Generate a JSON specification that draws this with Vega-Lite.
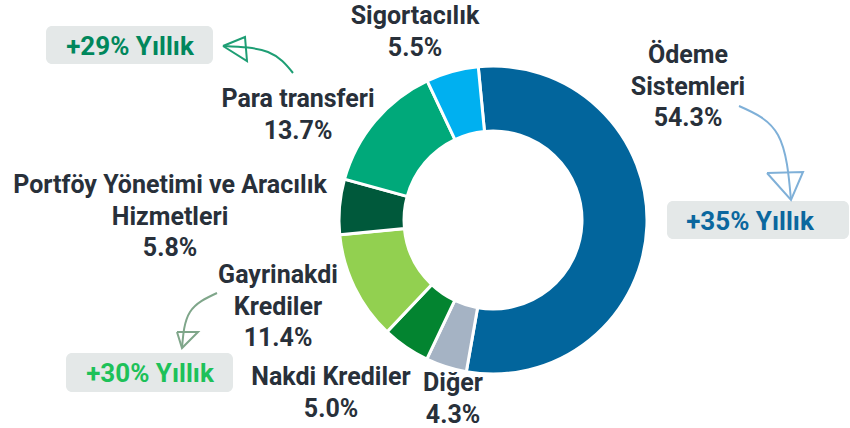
{
  "$schema": "https://vega.github.io/schema/vega-lite/v6.json",
  "width": 850,
  "height": 428,
  "autosize": {"type": "fit", "contains": "padding"},
  "padding": 0,
  "background": "white",
  "config": {"view": {"stroke": null}},
  "resolve": {"scale": {"color": "independent", "stroke": "independent"}},
  "datasets": {
    "slices": [
      {"segment": "Ödeme Sistemleri", "share": 54.3, "order": 1},
      {"segment": "Diğer", "share": 4.3, "order": 2},
      {"segment": "Nakdi Krediler", "share": 5.0, "order": 3},
      {"segment": "Gayrinakdi Krediler", "share": 11.4, "order": 4},
      {"segment": "Portföy Yönetimi ve Aracılık Hizmetleri", "share": 5.8, "order": 5},
      {"segment": "Para transferi", "share": 13.7, "order": 6},
      {"segment": "Sigortacılık", "share": 5.5, "order": 7}
    ],
    "labels": [
      {"text": "Sigortacılık\n5.5%", "x": 415, "y": 24},
      {"text": "Ödeme\nSistemleri\n54.3%", "x": 688, "y": 63},
      {"text": "Para transferi\n13.7%", "x": 298, "y": 107},
      {"text": "Portföy Yönetimi ve Aracılık\nHizmetleri\n5.8%", "x": 170, "y": 193},
      {"text": "Gayrinakdi\nKrediler\n11.4%", "x": 278, "y": 283},
      {"text": "Nakdi Krediler\n5.0%", "x": 331, "y": 385},
      {"text": "Diğer\n4.3%", "x": 453, "y": 391}
    ],
    "boxes": [
      {"text": "+29% Yıllık", "x1": 46, "x2": 213, "y1": 26, "y2": 64, "tx": 130, "ty": 55, "kind": "para"},
      {"text": "+35% Yıllık", "x1": 667, "x2": 849, "y1": 201, "y2": 239, "tx": 750, "ty": 230, "kind": "odeme"},
      {"text": "+30% Yıllık", "x1": 66, "x2": 233, "y1": 353, "y2": 392, "tx": 150, "ty": 382, "kind": "kredi"}
    ],
    "arrows": [
      {"kind": "para", "part": "shaft", "i": 1, "x": 293, "y": 73},
      {"kind": "para", "part": "shaft", "i": 2, "x": 268, "y": 52},
      {"kind": "para", "part": "shaft", "i": 3, "x": 224, "y": 46},
      {"kind": "para", "part": "head", "i": 1, "x": 223, "y": 46},
      {"kind": "para", "part": "head", "i": 2, "x": 245, "y": 37},
      {"kind": "para", "part": "head", "i": 3, "x": 247, "y": 61},
      {"kind": "para", "part": "head", "i": 4, "x": 223, "y": 46},
      {"kind": "odeme", "part": "shaft", "i": 1, "x": 739, "y": 106},
      {"kind": "odeme", "part": "shaft", "i": 2, "x": 778, "y": 135},
      {"kind": "odeme", "part": "shaft", "i": 3, "x": 791, "y": 200},
      {"kind": "odeme", "part": "head", "i": 1, "x": 767, "y": 173},
      {"kind": "odeme", "part": "head", "i": 2, "x": 803, "y": 172},
      {"kind": "odeme", "part": "head", "i": 3, "x": 791, "y": 200},
      {"kind": "odeme", "part": "head", "i": 4, "x": 767, "y": 173},
      {"kind": "kredi", "part": "shaft", "i": 1, "x": 217, "y": 293},
      {"kind": "kredi", "part": "shaft", "i": 2, "x": 190, "y": 312},
      {"kind": "kredi", "part": "shaft", "i": 3, "x": 182, "y": 348},
      {"kind": "kredi", "part": "head", "i": 1, "x": 177, "y": 332},
      {"kind": "kredi", "part": "head", "i": 2, "x": 198, "y": 332},
      {"kind": "kredi", "part": "head", "i": 3, "x": 182, "y": 348},
      {"kind": "kredi", "part": "head", "i": 4, "x": 177, "y": 332}
    ]
  },
  "layer": [
    {
      "data": {"name": "slices"},
      "mark": {"type": "arc", "radius": 154, "radius2": 89, "stroke": "white", "strokeWidth": 3},
      "encoding": {
        "x": {"datum": 493, "type": "quantitative", "scale": {"domain": [0, 850], "nice": false, "zero": false}, "axis": null},
        "y": {"datum": 220, "type": "quantitative", "scale": {"domain": [428, 0], "nice": false, "zero": false}, "axis": null},
        "theta": {"field": "share", "type": "quantitative", "stack": true, "scale": {"range": [-0.096, 6.1872]}},
        "order": {"field": "order", "type": "quantitative"},
        "color": {
          "field": "segment", "type": "nominal", "legend": null,
          "scale": {
            "domain": ["Ödeme Sistemleri", "Diğer", "Nakdi Krediler", "Gayrinakdi Krediler", "Portföy Yönetimi ve Aracılık Hizmetleri", "Para transferi", "Sigortacılık"],
            "range": ["#02659C", "#A5B3C4", "#038430", "#92D050", "#00593B", "#00A97A", "#00B0F0"]
          }
        }
      }
    },
    {
      "data": {"name": "boxes"},
      "mark": {"type": "rect", "cornerRadius": 6, "fill": "#E4E8E8"},
      "encoding": {
        "x": {"field": "x1", "type": "quantitative"},
        "x2": {"field": "x2"},
        "y": {"field": "y1", "type": "quantitative"},
        "y2": {"field": "y2"}
      }
    },
    {
      "data": {"name": "boxes"},
      "mark": {"type": "text", "font": "Roboto", "fontWeight": "bold", "fontSize": 26, "align": "center", "baseline": "alphabetic"},
      "encoding": {
        "x": {"field": "tx", "type": "quantitative"},
        "y": {"field": "ty", "type": "quantitative"},
        "text": {"field": "text"},
        "color": {"field": "kind", "type": "nominal", "legend": null, "scale": {"domain": ["para", "odeme", "kredi"], "range": ["#00875C", "#0B679E", "#1DC159"]}}
      }
    },
    {
      "data": {"name": "arrows"},
      "transform": [{"filter": "datum.part === 'shaft'"}],
      "mark": {"type": "line", "interpolate": "natural", "strokeWidth": 2},
      "encoding": {
        "x": {"field": "x", "type": "quantitative"},
        "y": {"field": "y", "type": "quantitative"},
        "order": {"field": "i", "type": "quantitative"},
        "detail": {"field": "kind"},
        "stroke": {"field": "kind", "type": "nominal", "legend": null, "scale": {"domain": ["para", "odeme", "kredi"], "range": ["#1E9E74", "#7FB0D8", "#7FA68A"]}}
      }
    },
    {
      "data": {"name": "arrows"},
      "transform": [{"filter": "datum.part === 'head'"}],
      "mark": {"type": "line", "interpolate": "linear", "strokeWidth": 2},
      "encoding": {
        "x": {"field": "x", "type": "quantitative"},
        "y": {"field": "y", "type": "quantitative"},
        "order": {"field": "i", "type": "quantitative"},
        "detail": {"field": "kind"},
        "stroke": {"field": "kind", "type": "nominal", "legend": null, "scale": {"domain": ["para", "odeme", "kredi"], "range": ["#1E9E74", "#7FB0D8", "#7FA68A"]}}
      }
    },
    {
      "data": {"name": "labels"},
      "mark": {"type": "text", "font": "Roboto", "fontWeight": "bold", "fontSize": 25, "align": "center", "baseline": "alphabetic", "lineBreak": "\n", "lineHeight": 31.5, "color": "#28303A"},
      "encoding": {
        "x": {"field": "x", "type": "quantitative"},
        "y": {"field": "y", "type": "quantitative"},
        "text": {"field": "text"}
      }
    }
  ]
}
